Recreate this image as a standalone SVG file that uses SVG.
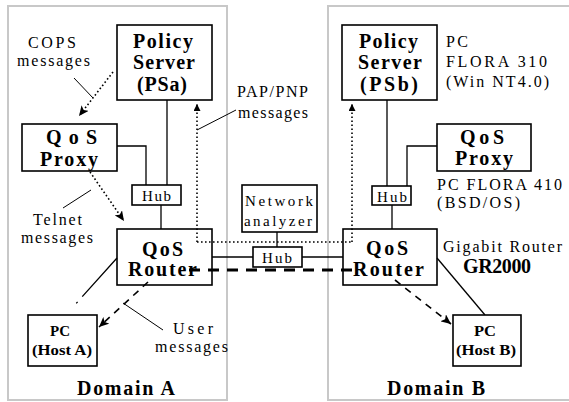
<svg xmlns="http://www.w3.org/2000/svg" width="569" height="402" viewBox="0 0 569 402" font-family="'Liberation Serif', 'Times New Roman', serif">
  <defs>
    <style>
      .frame { fill: none; stroke: #c8c8c8; stroke-width: 2; }
      .box { fill: #fff; stroke: #000; stroke-width: 1.6; }
      .wire { fill: none; stroke: #000; stroke-width: 1.3; }
      .dot { fill: none; stroke: #000; stroke-width: 1.6; stroke-dasharray: 1.6 2.4; }
      .dash { fill: none; stroke: #000; stroke-width: 1.6; stroke-dasharray: 7 6; }
      .thick { fill: none; stroke: #000; stroke-width: 2.8; stroke-dasharray: 11 8; }
      .lead { fill: none; stroke: #000; stroke-width: 1; }
      text { font-family: 'Liberation Serif', 'Times New Roman', serif; fill: #000; }
      .b { font-weight: bold; font-size: 20px; }
      .h { font-weight: bold; font-size: 14px; }
      .n { font-size: 16px; }
      .s { font-size: 15px; }
    </style>
    <marker id="head" markerUnits="userSpaceOnUse" markerWidth="11" markerHeight="9" refX="10" refY="4.5" orient="auto">
      <path d="M0,0 L10,4.5 L0,9 L2.5,4.5 z" fill="#000"/>
    </marker>
    <marker id="tip" markerUnits="userSpaceOnUse" markerWidth="8" markerHeight="7" refX="7" refY="3.5" orient="auto">
      <path d="M0,0 L7,3.5 L0,7 z" fill="#000"/>
    </marker>
  </defs>

  <!-- domain frames -->
  <g id="domain-a">
    <rect class="frame" x="8" y="6" width="219" height="394"/>
    <text class="b" x="77" y="395" textLength="98" lengthAdjust="spacing">Domain A</text>
  </g>
  <g id="domain-b">
    <rect class="frame" x="328" y="6" width="250" height="394"/>
    <text class="b" x="387" y="395" textLength="98" lengthAdjust="spacing">Domain B</text>
  </g>

  <!-- connectors -->
  <g id="connectors">
    <!-- LAN wiring -->
    <path class="wire" d="M167,100 V185"/>
    <path class="wire" d="M117,146 H146 V185"/>
    <path class="wire" d="M161,205 V229"/>
    <path class="wire" d="M212,257 H253"/>
    <path class="wire" d="M302,257 H343"/>
    <path class="wire" d="M277,232 V247"/>
    <path class="wire" d="M387,100 V186"/>
    <path class="wire" d="M437,146 H407 V186"/>
    <path class="wire" d="M392,205 V229"/>
    <path class="wire" d="M437,258 L485,315"/>
    <path class="wire" d="M117,258 L73,307" stroke-dasharray="52 7 2 100"/>

    <!-- PAP/PNP signalling -->
    <path class="dot" d="M197,242 H352"/>
    <path class="dot" d="M197,242 V104" marker-end="url(#tip)"/>
    <path class="dot" d="M352,242 V104" marker-end="url(#tip)"/>
    <path class="lead" d="M197,130 L236,110"/>

    <!-- user data path -->
    <path class="thick" d="M189,270 H360"/>

    <!-- COPS -->
    <path class="dot" d="M113,72 L79,116" marker-end="url(#head)"/>
    <path class="lead" d="M74,78 L93,98"/>

    <!-- Telnet -->
    <path class="dot" d="M90,172 L124,221" marker-end="url(#head)"/>
    <path class="lead" d="M63,208 L91,190"/>

    <!-- user messages -->
    <path class="dash" d="M148,282 L99,327" marker-end="url(#head)"/>
    <path class="lead" d="M123,303 L163,330"/>
    <path class="dash" d="M395,280 L451,324" marker-end="url(#head)"/>
  </g>

  <!-- Domain A nodes -->
  <g id="ps-a">
    <rect class="box" x="117" y="25" width="95" height="75"/>
    <text class="b" x="133" y="48" textLength="60" lengthAdjust="spacing">Policy</text>
    <text class="b" x="133" y="69" textLength="62" lengthAdjust="spacing">Server</text>
    <text class="b" x="137" y="91" textLength="50" lengthAdjust="spacing">(PSa)</text>
  </g>
  <g id="proxy-a">
    <rect class="box" x="22" y="124" width="95" height="47"/>
    <text class="b" x="46" y="144" textLength="51" lengthAdjust="spacing">QoS</text>
    <text class="b" x="40" y="166" textLength="58" lengthAdjust="spacing">Proxy</text>
  </g>
  <g id="hub-a">
    <rect class="box" x="132" y="185" width="49" height="20"/>
    <text class="s" x="142" y="201" textLength="29" lengthAdjust="spacing">Hub</text>
  </g>
  <g id="router-a">
    <rect class="box" x="117" y="229" width="95" height="56" fill-opacity="0"/>
    <text class="b" x="142" y="256" textLength="41" lengthAdjust="spacing">QoS</text>
    <text class="b" x="128" y="276" textLength="69" lengthAdjust="spacing">Router</text>
  </g>
  <g id="host-a">
    <rect class="box" x="28" y="315" width="69" height="51"/>
    <text class="h" x="50" y="336" textLength="20" lengthAdjust="spacingAndGlyphs">PC</text>
    <text class="h" x="32" y="355" textLength="60" lengthAdjust="spacingAndGlyphs">(Host A)</text>
  </g>

  <!-- shared segment -->
  <g id="analyzer">
    <rect class="box" x="242" y="185" width="75" height="47"/>
    <text class="s" x="245" y="206" textLength="68" lengthAdjust="spacing">Network</text>
    <text class="s" x="244" y="226" textLength="68" lengthAdjust="spacing">analyzer</text>
  </g>
  <g id="hub-mid">
    <rect class="box" x="253" y="247" width="49" height="20"/>
    <text class="s" x="262" y="263" textLength="30" lengthAdjust="spacing">Hub</text>
  </g>

  <!-- Domain B nodes -->
  <g id="ps-b">
    <rect class="box" x="342" y="25" width="95" height="75"/>
    <text class="b" x="359" y="48" textLength="59" lengthAdjust="spacing">Policy</text>
    <text class="b" x="358" y="69" textLength="64" lengthAdjust="spacing">Server</text>
    <text class="b" x="360" y="91" textLength="58" lengthAdjust="spacing">(PSb)</text>
    <text class="n" x="446" y="47" textLength="22" lengthAdjust="spacing">PC</text>
    <text class="n" x="446" y="67" textLength="101" lengthAdjust="spacing">FLORA 310</text>
    <text class="n" x="446" y="87" textLength="103" lengthAdjust="spacing">(Win NT4.0)</text>
  </g>
  <g id="proxy-b">
    <rect class="box" x="437" y="124" width="94" height="47"/>
    <text class="b" x="460" y="144" textLength="44" lengthAdjust="spacing">QoS</text>
    <text class="b" x="455" y="165" textLength="58" lengthAdjust="spacing">Proxy</text>
    <text class="n" x="437" y="190" textLength="125" lengthAdjust="spacing">PC FLORA 410</text>
    <text class="n" x="437" y="208" textLength="83" lengthAdjust="spacing">(BSD/OS)</text>
  </g>
  <g id="hub-b">
    <rect class="box" x="372" y="186" width="39" height="19"/>
    <text class="s" x="377" y="202" textLength="30" lengthAdjust="spacing">Hub</text>
  </g>
  <g id="router-b">
    <rect class="box" x="343" y="229" width="94" height="56" fill-opacity="0"/>
    <text class="b" x="366" y="255" textLength="42" lengthAdjust="spacing">QoS</text>
    <text class="b" x="353" y="276" textLength="71" lengthAdjust="spacing">Router</text>
    <text class="n" x="443" y="252" textLength="119" lengthAdjust="spacing">Gigabit Router</text>
    <text class="b" x="463" y="273" font-size="18" textLength="68" lengthAdjust="spacing">GR2000</text>
  </g>
  <g id="host-b">
    <rect class="box" x="453" y="315" width="68" height="51"/>
    <text class="h" x="474" y="336" textLength="22" lengthAdjust="spacingAndGlyphs">PC</text>
    <text class="h" x="456" y="355" textLength="60" lengthAdjust="spacingAndGlyphs">(Host B)</text>
  </g>

  <!-- free labels -->
  <g id="labels">
    <text class="n" x="28" y="48" textLength="48" lengthAdjust="spacing">COPS</text>
    <text class="n" x="17" y="66" textLength="73" lengthAdjust="spacing">messages</text>
    <text class="n" x="237" y="97" textLength="71" lengthAdjust="spacing">PAP/PNP</text>
    <text class="n" x="238" y="118" textLength="70" lengthAdjust="spacing">messages</text>
    <text class="n" x="33" y="225" textLength="49" lengthAdjust="spacing">Telnet</text>
    <text class="n" x="21" y="243" textLength="72" lengthAdjust="spacing">messages</text>
    <text class="n" x="173" y="334" textLength="40" lengthAdjust="spacing">User</text>
    <text class="n" x="155" y="352" textLength="73" lengthAdjust="spacing">messages</text>
  </g>
</svg>
